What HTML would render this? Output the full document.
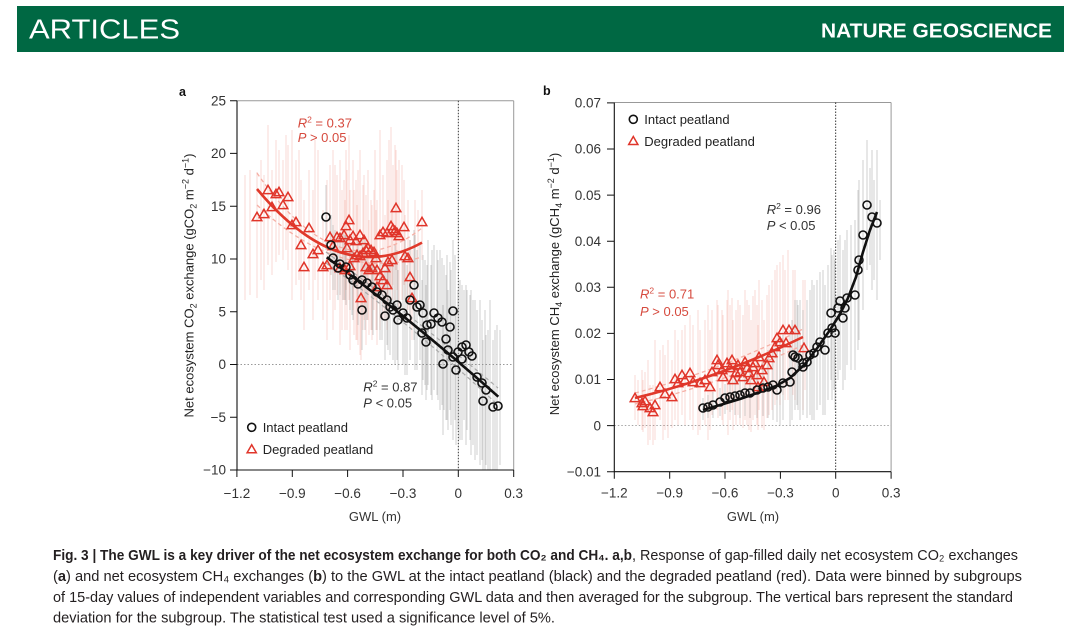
<!DOCTYPE html>
<html><head><meta charset="utf-8"><style>html,body{margin:0;padding:0;background:#fff;}svg{display:block}</style></head>
<body>
<svg xmlns="http://www.w3.org/2000/svg" width="1080" height="633" viewBox="0 0 1080 633" font-family="'Liberation Sans', Arial, sans-serif">
<defs>
<path id="tri" d="M0 -4.8l4.8 8.4h-9.6z"/>
</defs>
<rect width="1080" height="633" fill="#fff"/>
<!-- Header -->
<rect x="17" y="6" width="1047" height="46" fill="#006843"/>
<text x="29" y="38.3" font-size="28" fill="#fff" textLength="151" lengthAdjust="spacingAndGlyphs">ARTICLES</text>
<text x="821" y="37.3" font-size="20.5" font-weight="bold" fill="#fff" textLength="231" lengthAdjust="spacingAndGlyphs">NATURE GEOSCIENCE</text>

<!-- Panel labels -->
<text x="179" y="96" font-size="12.5" font-weight="bold" fill="#111">a</text>
<text x="543" y="95" font-size="12.5" font-weight="bold" fill="#111">b</text>

<!-- ================= PANEL A ================= -->
<g>
<line x1="237" y1="100.7" x2="513.7" y2="100.7" stroke="#999" stroke-width="1"/>
<line x1="513.7" y1="100.7" x2="513.7" y2="470" stroke="#999" stroke-width="1"/>
<line x1="458.3" y1="100.7" x2="458.3" y2="470" stroke="#222" stroke-width="0.9" stroke-dasharray="1.5 1.5"/>
<line x1="237" y1="364.5" x2="513.7" y2="364.5" stroke="#999" stroke-width="0.9" stroke-dasharray="1.5 2"/>

<!-- red error bars -->
<path fill="none" stroke="#f08878" stroke-opacity="0.32" stroke-width="1" d="M257 172V298M264 175V290M268 125V265M276 140V262M279 150V255M283 160V260M272 170V275M288 145V270M292 130V300M296 160V285M301 180V300M304 200V330M309 170V290M313 190V320M318 150V300M323 210V320M327 180V340M330 165V300M333 150V330M337 175V295M340 160V320M344 180V300M346 150V290M349 135V300M347 170V330M350 190V315M353 160V310M356 180V340M360 150V330M364 175V320M340 210V345M345 200V330M350 215V350M354 190V335M357 205V340M360 200V355M363 185V330M366 195V340M368 170V320M371 200V330M374 190V310M376 210V330M366 215V345M369 220V335M372 205V340M377 200V325M380 230V330M383 225V320M387 240V330M385 215V320M388 200V310M392 210V300M380 130V300M383 175V290M387 160V300M391 127V290M393 165V285M395 145V300M397 170V290M399 160V310M404 180V285M396 150V270M422 190V260M405 215V300M408 200V310M410 240V320M361 250V360M377 240V345M412 250V340M245 175V300M250 170V295M261 160V280M286 135V250M299 150V280M315 140V280M335 165V310M342 190V330M358 170V345M375 150V300M389 140V285M402 165V300M415 200V285M418 210V290"/>
<!-- gray error bars -->
<path fill="none" stroke="#888" stroke-opacity="0.4" stroke-width="1" d="M326 185V250M331 215V275M333 225V290M335 230V290M338 240V300M340 235V295M343 230V300M346 235V305M350 245V310M352 250V315M353 245V320M358 240V320M358 250V325M362 240V320M362 270V350M367 250V320M372 250V330M373 255V335M377 255V330M382 260V340M385 270V360M387 255V345M388 265V350M390 260V355M393 262V360M397 250V360M398 270V370M403 260V365M407 265V375M410 240V360M414 230V340M417 250V370M420 245V360M423 255V380M425 260V385M427 265V390M426 285V400M422 280V395M431 265V395M434 245V390M437 250V395M438 260V400M442 258V405M444 265V410M446 275V420M450 262V410M453 240V400M448 290V430M453 300V440M443 305V435M456 310V445M458 290V430M462 285V425M464 290V420M467 290V430M470 295V440M473 300V445M462 300V440M477 310V455M482 320V460M486 335V465M488 330V470M483 340V470M493 340V470M497 325V470M345 235V300M365 240V330M380 250V340M395 245V365M405 240V375M415 235V370M428 240V385M432 250V400M440 250V410M447 255V420M451 270V425M455 255V420M460 280V440M466 285V445M471 290V455M475 300V460M480 300V465M485 310V470M490 300V470M495 330V470M500 330V465"/>

<!-- fit lines -->
<path d="M257 173 Q339.5 293.5 422 228" fill="none" stroke="#f5b0a6" stroke-width="1.3" stroke-dasharray="4 3"/>
<path d="M257 205 Q339.5 283 422 257" fill="none" stroke="#f5b0a6" stroke-width="1.3" stroke-dasharray="4 3"/>
<path d="M326 252 Q412 316 498 388" fill="none" stroke="#aaa" stroke-width="1.2" stroke-dasharray="4 3"/>
<path d="M326 263 Q412 325 498 405" fill="none" stroke="#aaa" stroke-width="1.2" stroke-dasharray="4 3"/>
<path d="M257 189 Q339.5 288.3 422 242.6" fill="none" stroke="#e0392b" stroke-width="2.6"/>
<path d="M326.7 257.3 Q412 320 498.3 396.7" fill="none" stroke="#111" stroke-width="2.6"/>

<!-- red triangles -->
<path fill="none" stroke="#e0352a" stroke-width="1.5" stroke-linejoin="miter" d="M257 217m0-4.8l4.8 8.4h-9.6zM264 214m0-4.8l4.8 8.4h-9.6zM268 190m0-4.8l4.8 8.4h-9.6zM276 194m0-4.8l4.8 8.4h-9.6zM279 192m0-4.8l4.8 8.4h-9.6zM283 205m0-4.8l4.8 8.4h-9.6zM272 207m0-4.8l4.8 8.4h-9.6zM288 197m0-4.8l4.8 8.4h-9.6zM292 225m0-4.8l4.8 8.4h-9.6zM296 222m0-4.8l4.8 8.4h-9.6zM301 245m0-4.8l4.8 8.4h-9.6zM304 267m0-4.8l4.8 8.4h-9.6zM309 228m0-4.8l4.8 8.4h-9.6zM313 254m0-4.8l4.8 8.4h-9.6zM318 250m0-4.8l4.8 8.4h-9.6zM323 267m0-4.8l4.8 8.4h-9.6zM327 265m0-4.8l4.8 8.4h-9.6zM330 237m0-4.8l4.8 8.4h-9.6zM333 246m0-4.8l4.8 8.4h-9.6zM337 237m0-4.8l4.8 8.4h-9.6zM340 238m0-4.8l4.8 8.4h-9.6zM344 235m0-4.8l4.8 8.4h-9.6zM346 226m0-4.8l4.8 8.4h-9.6zM349 220m0-4.8l4.8 8.4h-9.6zM347 248m0-4.8l4.8 8.4h-9.6zM350 240m0-4.8l4.8 8.4h-9.6zM353 236m0-4.8l4.8 8.4h-9.6zM356 241m0-4.8l4.8 8.4h-9.6zM360 235m0-4.8l4.8 8.4h-9.6zM364 240m0-4.8l4.8 8.4h-9.6zM340 268m0-4.8l4.8 8.4h-9.6zM345 270m0-4.8l4.8 8.4h-9.6zM350 266m0-4.8l4.8 8.4h-9.6zM354 258m0-4.8l4.8 8.4h-9.6zM357 255m0-4.8l4.8 8.4h-9.6zM360 256m0-4.8l4.8 8.4h-9.6zM363 253m0-4.8l4.8 8.4h-9.6zM366 250m0-4.8l4.8 8.4h-9.6zM368 248m0-4.8l4.8 8.4h-9.6zM371 250m0-4.8l4.8 8.4h-9.6zM374 252m0-4.8l4.8 8.4h-9.6zM376 258m0-4.8l4.8 8.4h-9.6zM366 267m0-4.8l4.8 8.4h-9.6zM369 270m0-4.8l4.8 8.4h-9.6zM372 268m0-4.8l4.8 8.4h-9.6zM377 270m0-4.8l4.8 8.4h-9.6zM380 276m0-4.8l4.8 8.4h-9.6zM383 280m0-4.8l4.8 8.4h-9.6zM387 285m0-4.8l4.8 8.4h-9.6zM385 268m0-4.8l4.8 8.4h-9.6zM388 262m0-4.8l4.8 8.4h-9.6zM392 260m0-4.8l4.8 8.4h-9.6zM380 235m0-4.8l4.8 8.4h-9.6zM383 232m0-4.8l4.8 8.4h-9.6zM387 233m0-4.8l4.8 8.4h-9.6zM391 226m0-4.8l4.8 8.4h-9.6zM393 229m0-4.8l4.8 8.4h-9.6zM395 231m0-4.8l4.8 8.4h-9.6zM397 233m0-4.8l4.8 8.4h-9.6zM399 236m0-4.8l4.8 8.4h-9.6zM404 227m0-4.8l4.8 8.4h-9.6zM396 208m0-4.8l4.8 8.4h-9.6zM422 222m0-4.8l4.8 8.4h-9.6zM405 256m0-4.8l4.8 8.4h-9.6zM408 258m0-4.8l4.8 8.4h-9.6zM410 277m0-4.8l4.8 8.4h-9.6zM361 298m0-4.8l4.8 8.4h-9.6zM377 287m0-4.8l4.8 8.4h-9.6zM412 298m0-4.8l4.8 8.4h-9.6z"/>
<!-- black circles -->
<path fill="none" stroke="#111" stroke-width="1.6" d="M326 217m-4 0a4 4 0 1 0 8 0a4 4 0 1 0-8 0M331 245m-4 0a4 4 0 1 0 8 0a4 4 0 1 0-8 0M333 258m-4 0a4 4 0 1 0 8 0a4 4 0 1 0-8 0M338 268m-4 0a4 4 0 1 0 8 0a4 4 0 1 0-8 0M340 264m-4 0a4 4 0 1 0 8 0a4 4 0 1 0-8 0M346 267m-4 0a4 4 0 1 0 8 0a4 4 0 1 0-8 0M350 275m-4 0a4 4 0 1 0 8 0a4 4 0 1 0-8 0M353 280m-4 0a4 4 0 1 0 8 0a4 4 0 1 0-8 0M358 284m-4 0a4 4 0 1 0 8 0a4 4 0 1 0-8 0M362 280m-4 0a4 4 0 1 0 8 0a4 4 0 1 0-8 0M362 310m-4 0a4 4 0 1 0 8 0a4 4 0 1 0-8 0M367 283m-4 0a4 4 0 1 0 8 0a4 4 0 1 0-8 0M372 287m-4 0a4 4 0 1 0 8 0a4 4 0 1 0-8 0M377 292m-4 0a4 4 0 1 0 8 0a4 4 0 1 0-8 0M382 295m-4 0a4 4 0 1 0 8 0a4 4 0 1 0-8 0M385 316m-4 0a4 4 0 1 0 8 0a4 4 0 1 0-8 0M387 300m-4 0a4 4 0 1 0 8 0a4 4 0 1 0-8 0M390 307m-4 0a4 4 0 1 0 8 0a4 4 0 1 0-8 0M393 310m-4 0a4 4 0 1 0 8 0a4 4 0 1 0-8 0M397 305m-4 0a4 4 0 1 0 8 0a4 4 0 1 0-8 0M398 320m-4 0a4 4 0 1 0 8 0a4 4 0 1 0-8 0M403 313m-4 0a4 4 0 1 0 8 0a4 4 0 1 0-8 0M407 318m-4 0a4 4 0 1 0 8 0a4 4 0 1 0-8 0M410 300m-4 0a4 4 0 1 0 8 0a4 4 0 1 0-8 0M414 285m-4 0a4 4 0 1 0 8 0a4 4 0 1 0-8 0M417 307m-4 0a4 4 0 1 0 8 0a4 4 0 1 0-8 0M420 305m-4 0a4 4 0 1 0 8 0a4 4 0 1 0-8 0M423 313m-4 0a4 4 0 1 0 8 0a4 4 0 1 0-8 0M427 325m-4 0a4 4 0 1 0 8 0a4 4 0 1 0-8 0M426 342m-4 0a4 4 0 1 0 8 0a4 4 0 1 0-8 0M422 333m-4 0a4 4 0 1 0 8 0a4 4 0 1 0-8 0M431 324m-4 0a4 4 0 1 0 8 0a4 4 0 1 0-8 0M434 313m-4 0a4 4 0 1 0 8 0a4 4 0 1 0-8 0M438 318m-4 0a4 4 0 1 0 8 0a4 4 0 1 0-8 0M442 322m-4 0a4 4 0 1 0 8 0a4 4 0 1 0-8 0M446 339m-4 0a4 4 0 1 0 8 0a4 4 0 1 0-8 0M450 327m-4 0a4 4 0 1 0 8 0a4 4 0 1 0-8 0M453 311m-4 0a4 4 0 1 0 8 0a4 4 0 1 0-8 0M448 350m-4 0a4 4 0 1 0 8 0a4 4 0 1 0-8 0M453 357m-4 0a4 4 0 1 0 8 0a4 4 0 1 0-8 0M443 364m-4 0a4 4 0 1 0 8 0a4 4 0 1 0-8 0M456 370m-4 0a4 4 0 1 0 8 0a4 4 0 1 0-8 0M458 352m-4 0a4 4 0 1 0 8 0a4 4 0 1 0-8 0M462 347m-4 0a4 4 0 1 0 8 0a4 4 0 1 0-8 0M466 345m-4 0a4 4 0 1 0 8 0a4 4 0 1 0-8 0M469 352m-4 0a4 4 0 1 0 8 0a4 4 0 1 0-8 0M472 356m-4 0a4 4 0 1 0 8 0a4 4 0 1 0-8 0M462 359m-4 0a4 4 0 1 0 8 0a4 4 0 1 0-8 0M477 377m-4 0a4 4 0 1 0 8 0a4 4 0 1 0-8 0M482 383m-4 0a4 4 0 1 0 8 0a4 4 0 1 0-8 0M486 390m-4 0a4 4 0 1 0 8 0a4 4 0 1 0-8 0M483 401m-4 0a4 4 0 1 0 8 0a4 4 0 1 0-8 0M493 407m-4 0a4 4 0 1 0 8 0a4 4 0 1 0-8 0M498 406m-4 0a4 4 0 1 0 8 0a4 4 0 1 0-8 0"/>

<!-- axes -->
<path d="M237 100.7V470H513.7" fill="none" stroke="#111" stroke-width="1.1"/>
<path fill="none" stroke="#111" stroke-width="1" d="M230 100.7H237M230 153.4H237M230 206.2H237M230 259H237M230 311.7H237M230 364.5H237M230 417.3H237M230 470H237M236.9 470V477M292.3 470V477M347.6 470V477M403 470V477M458.3 470V477M513.7 470V477"/>
<g font-size="13.5" fill="#333" text-anchor="end">
<text x="226" y="105.4">25</text><text x="226" y="158.1">20</text><text x="226" y="210.9">15</text><text x="226" y="263.7">10</text><text x="226" y="316.4">5</text><text x="226" y="369.2">0</text><text x="226" y="422">−5</text><text x="226" y="474.7">−10</text>
</g>
<g font-size="13.5" fill="#333" text-anchor="middle">
<text x="236.9" y="498">−1.2</text><text x="292.3" y="498">−0.9</text><text x="347.6" y="498">−0.6</text><text x="403" y="498">−0.3</text><text x="458.3" y="498">0</text><text x="513.7" y="498">0.3</text>
<text x="375" y="521" font-size="13">GWL (m)</text>
</g>
<text transform="translate(193.5,285.5) rotate(-90)" text-anchor="middle" font-size="13" fill="#222">Net ecosystem CO<tspan font-size="9" dy="3">2</tspan><tspan dy="-3"> exchange (gCO</tspan><tspan font-size="9" dy="3">2</tspan><tspan dy="-3"> m</tspan><tspan font-size="9" dy="-5">−2</tspan><tspan dy="5"> d</tspan><tspan font-size="9" dy="-5">−1</tspan><tspan dy="5">)</tspan></text>

<!-- stats text -->
<g font-size="13" fill="#d64a3e">
<text x="297.7" y="127.5"><tspan font-style="italic">R</tspan><tspan font-size="8.5" dy="-5">2</tspan><tspan dy="5"> = 0.37</tspan></text>
<text x="297.7" y="142"><tspan font-style="italic">P</tspan> &gt; 0.05</text>
</g>
<g font-size="13" fill="#333">
<text x="363.3" y="391.5"><tspan font-style="italic">R</tspan><tspan font-size="8.5" dy="-5">2</tspan><tspan dy="5"> = 0.87</tspan></text>
<text x="363.3" y="407.5"><tspan font-style="italic">P</tspan> &lt; 0.05</text>
</g>
<!-- legend a -->
<circle cx="251.7" cy="427.3" r="4" fill="none" stroke="#111" stroke-width="1.6"/>
<text x="262.7" y="432" font-size="13" fill="#222">Intact peatland</text>
<path d="M251.7 444.8l4.6 8h-9.2z" fill="none" stroke="#e0352a" stroke-width="1.5"/>
<text x="262.7" y="454" font-size="13" fill="#222">Degraded peatland</text>
</g>

<!-- ================= PANEL B ================= -->
<g>
<line x1="614.3" y1="102.5" x2="891.1" y2="102.5" stroke="#999" stroke-width="1"/>
<line x1="891.1" y1="102.5" x2="891.1" y2="471.7" stroke="#999" stroke-width="1"/>
<line x1="835.7" y1="102.5" x2="835.7" y2="471.7" stroke="#222" stroke-width="0.9" stroke-dasharray="1.5 1.5"/>
<line x1="614.3" y1="425.6" x2="891.1" y2="425.6" stroke="#999" stroke-width="0.9" stroke-dasharray="1.5 2"/>

<!-- red bars -->
<path fill="none" stroke="#f08878" stroke-opacity="0.32" stroke-width="1" d="M635 375V420M642 370V430M645 372V428M643 380V432M650 385V440M653 385V445M655 340V440M660 350V420M665 355V430M672 360V428M675 330V420M678 340V425M682 330V415M685 325V425M690 315V420M693 325V430M700 330V430M705 320V425M712 310V415M710 330V430M717 300V410M718 305V418M722 310V420M723 315V425M727 300V410M730 305V420M732 298V410M733 320V430M736 310V425M738 300V415M740 305V425M743 315V428M745 290V420M747 300V425M749 305V430M751 320V432M753 296V420M755 290V415M757 305V425M759 280V410M762 300V425M764 320V430M767 295V418M769 285V415M772 280V410M775 270V405M777 265V400M780 262V405M783 255V395M788 250V400M793 270V395M785 270V400M803 280V410M758 325V430M762 320V428M795 270V400M805 280V390M648 360V445M668 340V438M698 310V435M708 305V440M728 290V435M638 380V425M663 345V440"/>
<!-- gray bars -->
<path fill="none" stroke="#888" stroke-opacity="0.4" stroke-width="1" d="M703 398V420M708 395V418M713 392V418M720 388V416M725 384V414M730 380V412M735 375V415M740 372V418M745 368V416M750 365V418M757 360V418M763 355V416M768 350V418M773 345V420M777 340V422M780 342V425M783 335V420M790 330V425M792 320V420M795 300V410M797 300V405M798 305V410M803 310V415M807 300V418M810 290V415M814 285V420M817 280V410M820 272V405M825 285V415M828 265V400M832 255V400M835 260V410M831 248V380M834 250V390M838 240V380M840 235V370M843 250V390M845 240V380M847 230V365M851 225V370M855 220V370M858 190V350M859 180V340M863 160V310M867 140V270M872 150V290M877 150V300M870 168V265M874 180V280M880 200V260M823 270V415M812 280V420M800 300V420"/>

<!-- fit lines -->
<path d="M635 393 Q719 371 803 329" fill="none" stroke="#f5b0a6" stroke-width="1.3" stroke-dasharray="4 3"/>
<path d="M635 404 Q719 385 803 345" fill="none" stroke="#f5b0a6" stroke-width="1.3" stroke-dasharray="4 3"/>
<path d="M635 398 Q719 378 803 337" fill="none" stroke="#e0392b" stroke-width="2.6"/>
<polyline points="703,410 720,405 740,399 760,392 776,386 790,378 805,364 818,347 830,330 840,314 848,298 856,277 863,252 870,230 877,212" fill="none" stroke="#111" stroke-width="2.6" stroke-linejoin="round"/>

<!-- red triangles -->
<path fill="none" stroke="#e0352a" stroke-width="1.5" d="M635 398m0-4.8l4.8 8.4h-9.6zM642 403m0-4.8l4.8 8.4h-9.6zM645 401m0-4.8l4.8 8.4h-9.6zM643 406m0-4.8l4.8 8.4h-9.6zM650 408m0-4.8l4.8 8.4h-9.6zM653 412m0-4.8l4.8 8.4h-9.6zM655 405m0-4.8l4.8 8.4h-9.6zM660 387m0-4.8l4.8 8.4h-9.6zM665 394m0-4.8l4.8 8.4h-9.6zM672 397m0-4.8l4.8 8.4h-9.6zM675 379m0-4.8l4.8 8.4h-9.6zM678 383m0-4.8l4.8 8.4h-9.6zM682 375m0-4.8l4.8 8.4h-9.6zM685 380m0-4.8l4.8 8.4h-9.6zM690 373m0-4.8l4.8 8.4h-9.6zM693 382m0-4.8l4.8 8.4h-9.6zM700 383m0-4.8l4.8 8.4h-9.6zM705 380m0-4.8l4.8 8.4h-9.6zM712 372m0-4.8l4.8 8.4h-9.6zM710 387m0-4.8l4.8 8.4h-9.6zM717 360m0-4.8l4.8 8.4h-9.6zM718 365m0-4.8l4.8 8.4h-9.6zM722 370m0-4.8l4.8 8.4h-9.6zM723 377m0-4.8l4.8 8.4h-9.6zM727 363m0-4.8l4.8 8.4h-9.6zM730 368m0-4.8l4.8 8.4h-9.6zM732 360m0-4.8l4.8 8.4h-9.6zM733 380m0-4.8l4.8 8.4h-9.6zM736 373m0-4.8l4.8 8.4h-9.6zM738 365m0-4.8l4.8 8.4h-9.6zM740 372m0-4.8l4.8 8.4h-9.6zM743 377m0-4.8l4.8 8.4h-9.6zM745 362m0-4.8l4.8 8.4h-9.6zM747 368m0-4.8l4.8 8.4h-9.6zM749 373m0-4.8l4.8 8.4h-9.6zM751 380m0-4.8l4.8 8.4h-9.6zM753 367m0-4.8l4.8 8.4h-9.6zM755 363m0-4.8l4.8 8.4h-9.6zM757 375m0-4.8l4.8 8.4h-9.6zM759 357m0-4.8l4.8 8.4h-9.6zM762 370m0-4.8l4.8 8.4h-9.6zM764 382m0-4.8l4.8 8.4h-9.6zM767 365m0-4.8l4.8 8.4h-9.6zM769 358m0-4.8l4.8 8.4h-9.6zM772 353m0-4.8l4.8 8.4h-9.6zM775 347m0-4.8l4.8 8.4h-9.6zM777 338m0-4.8l4.8 8.4h-9.6zM780 342m0-4.8l4.8 8.4h-9.6zM783 330m0-4.8l4.8 8.4h-9.6zM789 330m0-4.8l4.8 8.4h-9.6zM795 330m0-4.8l4.8 8.4h-9.6zM786 343m0-4.8l4.8 8.4h-9.6zM804 348m0-4.8l4.8 8.4h-9.6zM758 387m0-4.8l4.8 8.4h-9.6z"/>
<!-- black circles -->
<path fill="none" stroke="#111" stroke-width="1.6" d="M703 408m-4 0a4 4 0 1 0 8 0a4 4 0 1 0-8 0M708 407m-4 0a4 4 0 1 0 8 0a4 4 0 1 0-8 0M713 405m-4 0a4 4 0 1 0 8 0a4 4 0 1 0-8 0M720 402m-4 0a4 4 0 1 0 8 0a4 4 0 1 0-8 0M725 398m-4 0a4 4 0 1 0 8 0a4 4 0 1 0-8 0M730 397m-4 0a4 4 0 1 0 8 0a4 4 0 1 0-8 0M735 396m-4 0a4 4 0 1 0 8 0a4 4 0 1 0-8 0M740 395m-4 0a4 4 0 1 0 8 0a4 4 0 1 0-8 0M745 393m-4 0a4 4 0 1 0 8 0a4 4 0 1 0-8 0M750 393m-4 0a4 4 0 1 0 8 0a4 4 0 1 0-8 0M757 390m-4 0a4 4 0 1 0 8 0a4 4 0 1 0-8 0M763 388m-4 0a4 4 0 1 0 8 0a4 4 0 1 0-8 0M768 387m-4 0a4 4 0 1 0 8 0a4 4 0 1 0-8 0M773 385m-4 0a4 4 0 1 0 8 0a4 4 0 1 0-8 0M777 390m-4 0a4 4 0 1 0 8 0a4 4 0 1 0-8 0M783 383m-4 0a4 4 0 1 0 8 0a4 4 0 1 0-8 0M790 382m-4 0a4 4 0 1 0 8 0a4 4 0 1 0-8 0M792 372m-4 0a4 4 0 1 0 8 0a4 4 0 1 0-8 0M795 357m-4 0a4 4 0 1 0 8 0a4 4 0 1 0-8 0M798 358m-4 0a4 4 0 1 0 8 0a4 4 0 1 0-8 0M803 363m-4 0a4 4 0 1 0 8 0a4 4 0 1 0-8 0M807 362m-4 0a4 4 0 1 0 8 0a4 4 0 1 0-8 0M810 355m-4 0a4 4 0 1 0 8 0a4 4 0 1 0-8 0M814 353m-4 0a4 4 0 1 0 8 0a4 4 0 1 0-8 0M817 347m-4 0a4 4 0 1 0 8 0a4 4 0 1 0-8 0M820 342m-4 0a4 4 0 1 0 8 0a4 4 0 1 0-8 0M825 350m-4 0a4 4 0 1 0 8 0a4 4 0 1 0-8 0M828 333m-4 0a4 4 0 1 0 8 0a4 4 0 1 0-8 0M832 328m-4 0a4 4 0 1 0 8 0a4 4 0 1 0-8 0M835 333m-4 0a4 4 0 1 0 8 0a4 4 0 1 0-8 0M831 313m-4 0a4 4 0 1 0 8 0a4 4 0 1 0-8 0M838 308m-4 0a4 4 0 1 0 8 0a4 4 0 1 0-8 0M840 301m-4 0a4 4 0 1 0 8 0a4 4 0 1 0-8 0M843 318m-4 0a4 4 0 1 0 8 0a4 4 0 1 0-8 0M845 308m-4 0a4 4 0 1 0 8 0a4 4 0 1 0-8 0M847 298m-4 0a4 4 0 1 0 8 0a4 4 0 1 0-8 0M855 295m-4 0a4 4 0 1 0 8 0a4 4 0 1 0-8 0M858 270m-4 0a4 4 0 1 0 8 0a4 4 0 1 0-8 0M859 260m-4 0a4 4 0 1 0 8 0a4 4 0 1 0-8 0M863 235m-4 0a4 4 0 1 0 8 0a4 4 0 1 0-8 0M867 205m-4 0a4 4 0 1 0 8 0a4 4 0 1 0-8 0M872 217m-4 0a4 4 0 1 0 8 0a4 4 0 1 0-8 0M877 223m-4 0a4 4 0 1 0 8 0a4 4 0 1 0-8 0M793 355m-4 0a4 4 0 1 0 8 0a4 4 0 1 0-8 0M803 367m-4 0a4 4 0 1 0 8 0a4 4 0 1 0-8 0"/>

<!-- axes -->
<path d="M614.3 102.5V471.7H891.1" fill="none" stroke="#111" stroke-width="1.1"/>
<path fill="none" stroke="#111" stroke-width="1" d="M607 102.9H614.3M607 149H614.3M607 195.1H614.3M607 241.2H614.3M607 287.3H614.3M607 333.4H614.3M607 379.5H614.3M607 425.6H614.3M607 471.7H614.3M614.3 471.7V478.7M669.7 471.7V478.7M725 471.7V478.7M780.4 471.7V478.7M835.7 471.7V478.7M891.1 471.7V478.7"/>
<g font-size="13.5" fill="#333" text-anchor="end">
<text x="601" y="107.6">0.07</text><text x="601" y="153.7">0.06</text><text x="601" y="199.8">0.05</text><text x="601" y="245.9">0.04</text><text x="601" y="292">0.03</text><text x="601" y="338.1">0.02</text><text x="601" y="384.2">0.01</text><text x="601" y="430.3">0</text><text x="601" y="476.4">−0.01</text>
</g>
<g font-size="13.5" fill="#333" text-anchor="middle">
<text x="614.3" y="497.5">−1.2</text><text x="669.7" y="497.5">−0.9</text><text x="725" y="497.5">−0.6</text><text x="780.4" y="497.5">−0.3</text><text x="835.7" y="497.5">0</text><text x="891.1" y="497.5">0.3</text>
<text x="753" y="521" font-size="13">GWL (m)</text>
</g>
<text transform="translate(559,284) rotate(-90)" text-anchor="middle" font-size="13" fill="#222">Net ecosystem CH<tspan font-size="9" dy="3">4</tspan><tspan dy="-3"> exchange (gCH</tspan><tspan font-size="9" dy="3">4</tspan><tspan dy="-3"> m</tspan><tspan font-size="9" dy="-5">−2</tspan><tspan dy="5"> d</tspan><tspan font-size="9" dy="-5">−1</tspan><tspan dy="5">)</tspan></text>

<g font-size="13" fill="#333">
<text x="766.7" y="214"><tspan font-style="italic">R</tspan><tspan font-size="8.5" dy="-5">2</tspan><tspan dy="5"> = 0.96</tspan></text>
<text x="766.7" y="230"><tspan font-style="italic">P</tspan> &lt; 0.05</text>
</g>
<g font-size="13" fill="#d64a3e">
<text x="640" y="298.5"><tspan font-style="italic">R</tspan><tspan font-size="8.5" dy="-5">2</tspan><tspan dy="5"> = 0.71</tspan></text>
<text x="640" y="316"><tspan font-style="italic">P</tspan> &gt; 0.05</text>
</g>
<!-- legend b -->
<circle cx="633.3" cy="119.3" r="4" fill="none" stroke="#111" stroke-width="1.6"/>
<text x="644.3" y="124" font-size="13" fill="#222">Intact peatland</text>
<path d="M633.3 136.5l4.6 8h-9.2z" fill="none" stroke="#e0352a" stroke-width="1.5"/>
<text x="644.3" y="146" font-size="13" fill="#222">Degraded peatland</text>
</g>

<!-- ================= CAPTION ================= -->
<g font-size="15" fill="#231f20">
<text x="53" y="560" font-weight="bold" textLength="579" lengthAdjust="spacingAndGlyphs">Fig. 3 | The GWL is a key driver of the net ecosystem exchange for both CO₂ and CH₄. a,b</text>
<text x="632" y="560" textLength="386" lengthAdjust="spacingAndGlyphs">, Response of gap-filled daily net ecosystem CO₂ exchanges</text>
<text x="53" y="581" textLength="969" lengthAdjust="spacingAndGlyphs">(<tspan font-weight="bold">a</tspan>) and net ecosystem CH₄ exchanges (<tspan font-weight="bold">b</tspan>) to the GWL at the intact peatland (black) and the degraded peatland (red). Data were binned by subgroups</text>
<text x="53" y="602" textLength="960" lengthAdjust="spacingAndGlyphs">of 15-day values of independent variables and corresponding GWL data and then averaged for the subgroup. The vertical bars represent the standard</text>
<text x="53" y="622.5" textLength="502" lengthAdjust="spacingAndGlyphs">deviation for the subgroup. The statistical test used a significance level of 5%.</text>
</g>
</svg>
</body></html>
